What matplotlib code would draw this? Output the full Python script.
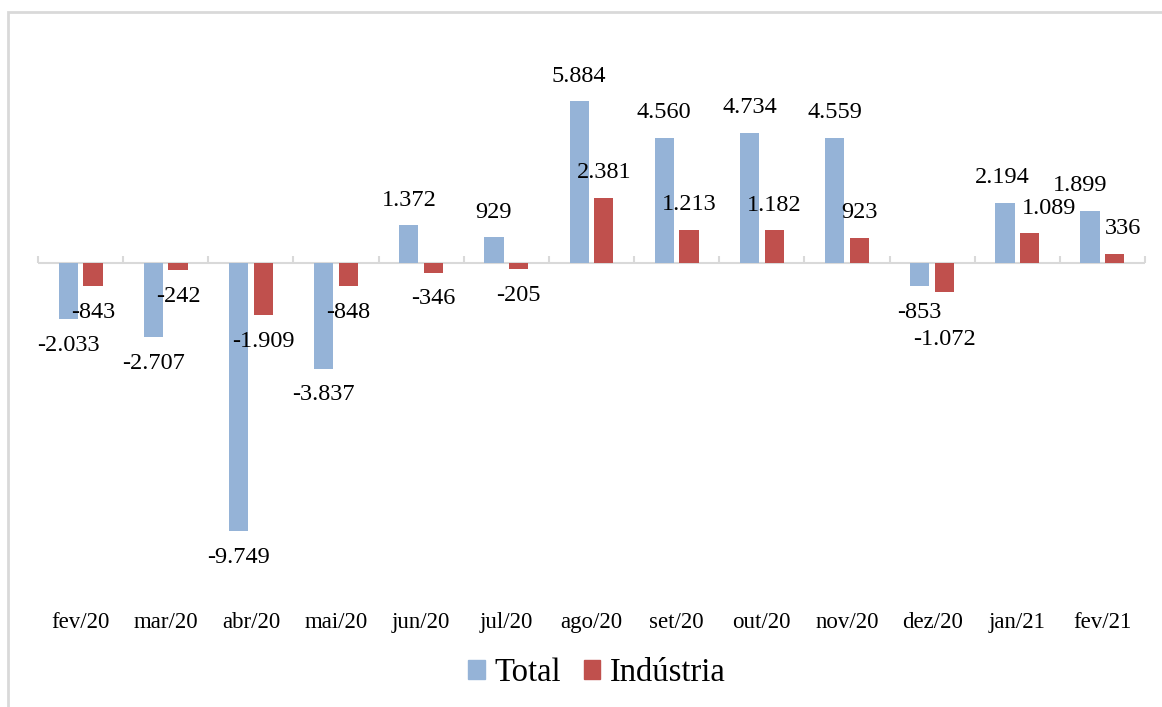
import matplotlib
matplotlib.use("Agg")
import matplotlib.pyplot as plt
from matplotlib.patches import Rectangle
import numpy as np

months = ["fev/20", "mar/20", "abr/20", "mai/20", "jun/20", "jul/20", "ago/20",
          "set/20", "out/20", "nov/20", "dez/20", "jan/21", "fev/21"]
total = [-2033, -2707, -9749, -3837, 1372, 929, 5884, 4560, 4734, 4559, -853, 2194, 1899]
industria = [-843, -242, -1909, -848, -346, -205, 2381, 1213, 1182, 923, -1072, 1089, 336]

c_total = "#95B3D7"
c_ind = "#C0504D"
c_line = "#D9D9D9"
plt.rcParams['font.family'] = ['Liberation Serif', 'DejaVu Serif']

W, H = 1162, 707
fig = plt.figure(figsize=(W / 100, H / 100), dpi=100)

# outer chart border (only top and left visible)
fig.patches.append(Rectangle((8 / W, -0.1), 1.2, (H - 12) / H + 0.1, transform=fig.transFigure,
                             fill=False, edgecolor=c_line, linewidth=2))

ymin, ymax = -12000, 8000
top_px, bot_px = 43, 593
ax = fig.add_axes([38 / W, 1 - bot_px / H, (1145 - 38) / W, (bot_px - top_px) / H])
ax.set_ylim(ymin, ymax)
ax.set_xlim(-0.5, len(months) - 0.5)

x = np.arange(len(months))
bw = 0.225
off = 0.145
ax.bar(x - off, total, bw, color=c_total, zorder=2)
ax.bar(x + off, industria, bw, color=c_ind, zorder=2)

def fmt(v):
    return f"{v:,}".replace(",", ".")

# nudges (points) where labels were moved to avoid overlaps
nudge_total = {11: (-2, 0), 12: (-7, 0)}
nudge_ind = {10: (0, -15), 11: (14, 0), 12: (6, 0)}
for i in range(len(months)):
    for xs, v, nd in ((x[i] - off, total[i], nudge_total), (x[i] + off, industria[i], nudge_ind)):
        dx, dy = nd.get(i, (0, 0))
        dy += 18 if v > 0 else -19
        ax.annotate(fmt(v), (xs, v), xytext=(dx, dy), textcoords="offset points",
                    ha="center", va="center", fontsize=17.5, color="black")

for s in ax.spines.values():
    s.set_visible(False)
ax.set_yticks([])
ax.set_xticks(x)
ax.set_xticklabels(months, fontsize=16.5)
ax.tick_params(axis="x", length=0, pad=14)

# zero axis line with tick marks between categories
ax.axhline(0, color=c_line, linewidth=1.5, zorder=1)
zero_frac = (0 - ymin) / (ymax - ymin)
sec = ax.secondary_xaxis(zero_frac)
sec.set_xticks(np.arange(-0.5, len(months), 1.0))
sec.set_xticklabels([])
sec.tick_params(axis="x", direction="out", length=5, width=1.5, color=c_line)
for s in sec.spines.values():
    s.set_visible(False)

handles = [Rectangle((0, 0), 1, 1, color=c_total), Rectangle((0, 0), 1, 1, color=c_ind)]
fig.legend(handles, ["Total", "Indústria"], loc="center", bbox_to_anchor=(597 / W, 1 - 673 / H),
           ncol=2, frameon=False, fontsize=23.5, handlelength=0.5, handleheight=0.5,
           handletextpad=0.3, columnspacing=0.7)

fig.savefig("out.png", dpi=100)
